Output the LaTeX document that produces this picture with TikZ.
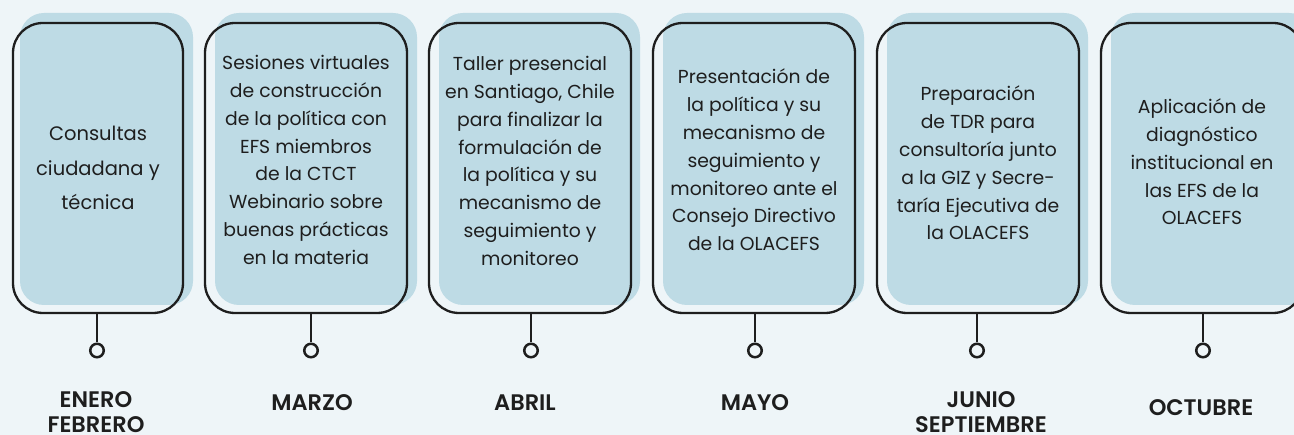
\documentclass[tikz,border=0pt]{standalone}
\usepackage{fontspec}
\setmainfont{Poppins}
\newfontfamily\monthfont{Poppins SemiBold}
\definecolor{bgc}{HTML}{EEF5F8}
\definecolor{fillc}{HTML}{BEDBE5}
\definecolor{ink}{HTML}{1E1E1E}
\tikzset{
  outlinebox/.style={draw=ink, line width=2.3pt, rounded corners=30pt, minimum height=290pt, inner sep=0pt},
  blob/.style={fill=fillc, rounded corners=24pt},
  bodytext/.style={align=center, text=ink, font=\fontsize{18.8}{27.8}\selectfont},
  stem/.style={draw=ink, line width=2.5pt},
  dot/.style={circle, draw=ink, line width=2.5pt, minimum size=13.5pt, inner sep=0pt, fill=bgc},
  month/.style={align=center, text=ink, font=\monthfont\fontsize{22.5}{25.5}\selectfont}
}
\begin{document}
\begin{tikzpicture}[x=1pt,y=-1pt]
\clip (0,0) rectangle (1294,435);
\fill[bgc] (0,0) rectangle (1294,435);
% background blobs
\fill[blob] (20,13) rectangle (193,305);
\fill[blob] (215,13) rectangle (417,305);
\fill[blob] (439,13) rectangle (640,305);
\fill[blob] (663,13) rectangle (864,305);
\fill[blob] (887,13) rectangle (1088,305);
\fill[blob] (1111,13) rectangle (1313,305);
% outline boxes
\node[outlinebox, minimum width=170pt] (b1) at (98,168) {};
\node[outlinebox, minimum width=202pt] (b2) at (306,168) {};
\node[outlinebox, minimum width=202pt] (b3) at (530,168) {};
\node[outlinebox, minimum width=202pt] (b4) at (754,168) {};
\node[outlinebox, minimum width=202pt] (b5) at (978,168) {};
\node[outlinebox, minimum width=202pt] (b6) at (1202,168) {};
% texts
\node[bodytext, font=\fontsize{19.5}{34.5}\selectfont] (t1) at (98,168) {Consultas\\ciudadana y\\técnica};
\node[bodytext] (t2) at (306,160) {Sesiones virtuales\\de construcción\\de la política con\\EFS miembros\\de la CTCT\\Webinario sobre\\buenas prácticas\\en la materia};
\node[bodytext] (t3) at (530,161) {Taller presencial\\en Santiago, Chile\\para finalizar la\\formulación de\\la política y su\\mecanismo de\\seguimiento y\\monitoreo};
\node[bodytext] (t4) at (754,160) {Presentación de\\la política y su\\mecanismo de\\seguimiento y\\monitoreo ante el\\Consejo Directivo\\de la OLACEFS};
\node[bodytext] (t5) at (978,163) {Preparación\\de TDR para\\consultoría junto\\a la GIZ y Secre-\\taría Ejecutiva de\\la OLACEFS};
\node[bodytext] (t6) at (1202,162) {Aplicación de\\diagnóstico\\institucional en\\las EFS de la\\OLACEFS};
% dots
\node[dot] (c1) at (97,350.5) {};
\node[dot] (c2) at (311,350.5) {};
\node[dot] (c3) at (531,350.5) {};
\node[dot] (c4) at (755,350.5) {};
\node[dot] (c5) at (977,350.5) {};
\node[dot] (c6) at (1203,350.5) {};
% stems
\draw[stem] (b1.south -| c1) -- (c1.north);
\draw[stem] (b2.south -| c2) -- (c2.north);
\draw[stem] (b3.south -| c3) -- (c3.north);
\draw[stem] (b4.south -| c4) -- (c4.north);
\draw[stem] (b5.south -| c5) -- (c5.north);
\draw[stem] (b6.south -| c6) -- (c6.north);
% months
\node[month, anchor=north] (m1) at (96,388) {ENERO\\FEBRERO};
\node[month] (m2) at (312,403) {MARZO};
\node[month] (m3) at (525,403) {ABRIL};
\node[month] (m4) at (755,403) {MAYO};
\node[month, anchor=north] (m5) at (981,388) {JUNIO\\SEPTIEMBRE};
\node[month] (m6) at (1201,408) {OCTUBRE};
\end{tikzpicture}
\end{document}
